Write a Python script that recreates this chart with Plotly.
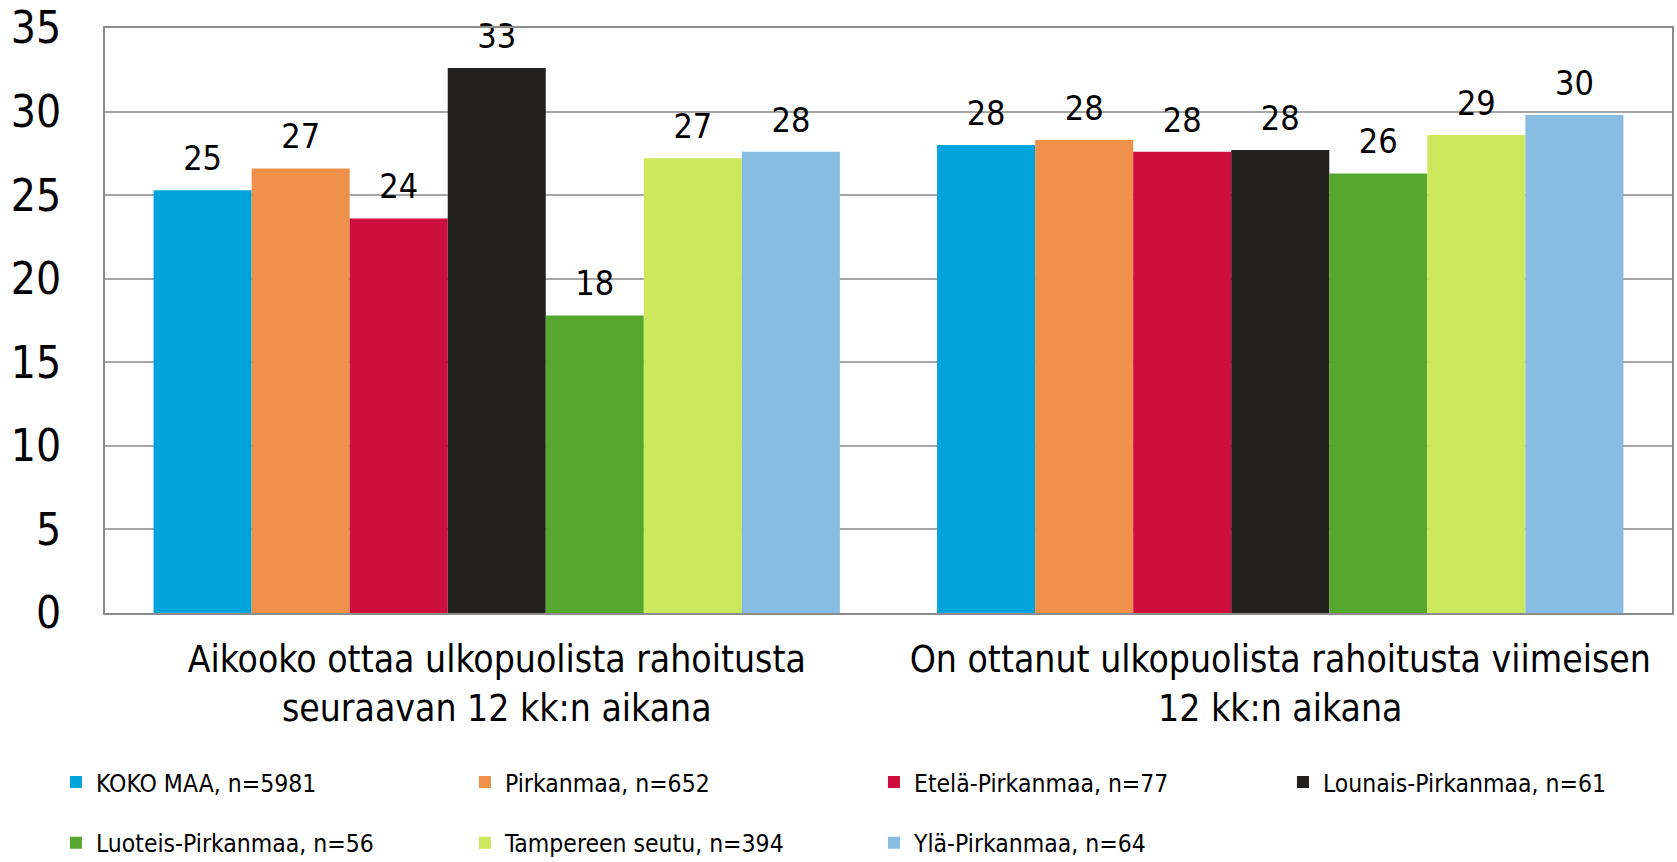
import plotly.graph_objects as go

categories = [
    "Aikooko ottaa ulkopuolista rahoitusta<br>seuraavan 12 kk:n aikana",
    "On ottanut ulkopuolista rahoitusta viimeisen<br>12 kk:n aikana",
]
series_names = [
    "KOKO MAA, n=5981",
    "Pirkanmaa, n=652",
    "Etelä-Pirkanmaa, n=77",
    "Lounais-Pirkanmaa, n=61",
    "Luoteis-Pirkanmaa, n=56",
    "Tampereen seutu, n=394",
    "Ylä-Pirkanmaa, n=64",
]
koko_maa = [25.3, 28.0]
pirkanmaa = [26.6, 28.3]
etela = [23.6, 27.6]
lounais = [32.6, 27.7]
luoteis = [17.8, 26.3]
tampereen = [27.2, 28.6]
yla = [27.6, 29.8]
series_values = [koko_maa, pirkanmaa, etela, lounais, luoteis, tampereen, yla]
colors = ["#00A4DB", "#F0914B", "#CE0F3D", "#22211F", "#56A72D", "#CDE85C", "#87BDE2"]
y_ticks = [0, 5, 10, 15, 20, 25, 30, 35]

FONT = "DejaVu Sans Condensed"
BARGAP = 0.124

fig = go.Figure()
for i, (name, vals, col) in enumerate(zip(series_names, series_values, colors)):
    fig.add_trace(go.Bar(
        x=categories, y=vals, name=name, marker=dict(color=col, line=dict(width=0)),
        legend="legend" if i < 4 else "legend2",
    ))
for i, (name, vals) in enumerate(zip(series_names, series_values)):
    fig.add_trace(go.Scatter(
        x=categories, y=vals, mode="markers+text",
        text=[f"{v:.0f}" for v in vals], textposition="top center",
        textfont=dict(family=FONT, size=34, color="#000000"),
        marker=dict(size=17, opacity=0), showlegend=False, hoverinfo="skip",
        cliponaxis=False,
    ))

legend_common = dict(orientation="h", x=-0.0313, xanchor="left", yanchor="middle",
                     font=dict(family=FONT, size=24.5), entrywidth=364, entrywidthmode="pixels",
                     traceorder="normal", itemclick=False, bgcolor="rgba(0,0,0,0)")

fig.update_layout(
    width=1677, height=862,
    margin=dict(l=105, r=5, t=28, b=249, autoexpand=False),
    paper_bgcolor="white", plot_bgcolor="white",
    barmode="group", bargap=BARGAP, bargroupgap=0,
    scattermode="group", scattergap=BARGAP,
    font=dict(family=FONT, color="#000000"),
    legend=dict(y=-0.289, **legend_common),
    legend2=dict(y=-0.393, **legend_common),
)
fig.update_xaxes(
    showline=True, linecolor="#8C8C8C", linewidth=2, mirror=True, automargin=False,
    showgrid=False, ticks="", tickfont=dict(family=FONT, size=37),
    ticklabelstandoff=13,
)
fig.update_yaxes(
    range=[0, 35], tickvals=y_ticks, showline=True, linecolor="#8C8C8C", linewidth=2, mirror=True,
    automargin=False,
    showgrid=True, gridcolor="#A6A6A6", gridwidth=1.5, ticks="",
    tickfont=dict(family=FONT, size=44), ticklabelstandoff=33, zeroline=False,
)

fig.write_html(
    "out.html",
    config={"displayModeBar": False},
    post_script="document.body.style.margin='0';document.body.style.overflow='hidden';",
)
